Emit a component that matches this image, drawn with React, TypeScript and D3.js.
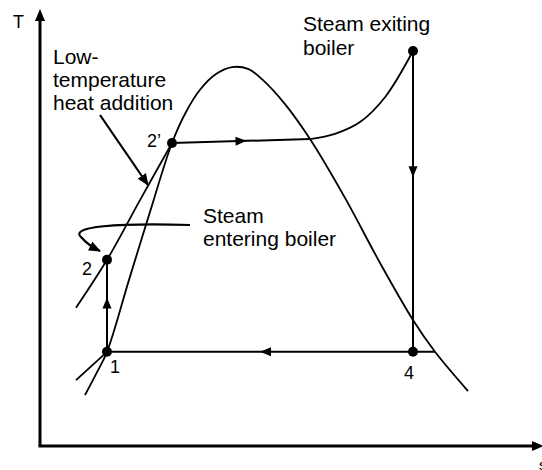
import React from "react";
import * as d3 from "d3";

// Data coordinates: entropy s (0-100), temperature T (0-100)
const domePoints: [number, number][] = [
  [9, 11.7], [11.2, 16.5], [13.4, 21.6], [17.8, 38.1], [22, 53.7], [26.4, 69.5],
  [29.2, 76.6], [32, 81.7], [35.2, 85.3], [38.4, 86.9], [41.6, 86.5], [44.6, 83.9],
  [49, 78.4], [54, 70.4], [61, 56.9], [68, 42.0], [74.6, 28.9], [79, 21.6], [85.6, 12.6],
];
const liquidLine: [number, number][] = [[7.2, 31.7], [13.4, 42.7], [20, 56.4], [26.4, 69.5]];
const stubLine: [number, number][] = [[7.2, 15.1], [13.4, 21.6]];
const heatAddition: [number, number][] = [[26.4, 69.5], [54, 70.4]];
const superheat: [number, number][] = [
  [54, 70.4], [59, 71.6], [64, 74.3], [69, 80.0], [74.6, 90.6],
];
const pumpLine: [number, number][] = [[13.4, 21.6], [13.4, 42.7]];
const turbineLine: [number, number][] = [[74.6, 90.6], [74.6, 21.6]];
const condenserLine: [number, number][] = [[79, 21.6], [13.4, 21.6]];

const statePoints: [number, number][] = [[13.4, 21.6], [13.4, 42.7], [26.4, 69.5], [74.6, 90.6], [74.6, 21.6]];
const stateLabels = ["1", "2", "2’", "", "4"];

// flow arrows: segment and fraction along it
const flowArrows: { seg: [number, number][]; t: number }[] = [
  { seg: pumpLine, t: 0.59 },
  { seg: heatAddition, t: 0.54 },
  { seg: turbineLine, t: 0.42 },
  { seg: [[74.6, 21.6], [13.4, 21.6]], t: 0.5 },
];

const annLowTemp = ["Low-", "temperature", "heat addition"];
const annEntering = ["Steam", "entering boiler"];
const annExiting = ["Steam exiting", "boiler"];

const W = 542, H = 470;
const x = d3.scaleLinear().domain([0, 100]).range([40, 540]);
const y = d3.scaleLinear().domain([0, 100]).range([446, 10]);

const smooth = d3.line<[number, number]>().x(d => x(d[0])).y(d => y(d[1])).curve(d3.curveCatmullRom.alpha(0.5));
const straight = d3.line<[number, number]>().x(d => x(d[0])).y(d => y(d[1]));

function arrowHead(px: number, py: number, dx: number, dy: number, len = 11, half = 4.5) {
  const L = Math.hypot(dx, dy);
  const ux = dx / L, uy = dy / L;
  const bx = px - ux * len, by = py - uy * len;
  const nx = -uy, ny = ux;
  return `M${px},${py}L${bx + nx * half},${by + ny * half}L${bx - nx * half},${by - ny * half}Z`;
}

export default function App() {
  const font = "'Liberation Sans', Arial, Helvetica, sans-serif";
  const labelOffsets: [number, number][] = [[3, 21], [-25, 15], [-25, 4], [0, 0], [-9, 27]];
  return (
    <svg width={W} height={H} style={{ position: "absolute", left: 0, top: 0, background: "#fff" }} fontFamily={font}>
      <defs>
        <marker id="ah" viewBox="0 0 12 10" refX="11" refY="5" markerWidth="12" markerHeight="10" markerUnits="userSpaceOnUse" orient="auto">
          <path d="M0,0 L12,5 L0,10 Z" fill="#000" />
        </marker>
      </defs>
      {/* axes */}
      <line x1={x(0)} y1={y(0)} x2={x(0)} y2={y(100) + 8} stroke="#000" strokeWidth={3} />
      <path d={arrowHead(x(0), y(100) - 1, 0, -1, 12, 5)} fill="#000" />
      <line x1={x(0) - 1.5} y1={y(0)} x2={x(100) - 6} y2={y(0)} stroke="#000" strokeWidth={3} />
      <path d={arrowHead(x(100) + 4, y(0), 1, 0, 12, 5)} fill="#000" />
      <text x={13} y={28} fontSize={18}>T</text>
      <text x={539} y={470} fontSize={15}>s</text>

      {/* dome and lines */}
      <path d={smooth(domePoints)!} fill="none" stroke="#000" strokeWidth={1.8} />
      <path d={smooth(liquidLine)!} fill="none" stroke="#000" strokeWidth={1.8} />
      <path d={smooth(stubLine)!} fill="none" stroke="#000" strokeWidth={1.8} />
      <path d={straight(heatAddition)!} fill="none" stroke="#000" strokeWidth={2} />
      <path d={smooth(superheat)!} fill="none" stroke="#000" strokeWidth={1.8} />
      <path d={straight(pumpLine)!} fill="none" stroke="#000" strokeWidth={2} />
      <path d={straight(turbineLine)!} fill="none" stroke="#000" strokeWidth={2} />
      <path d={straight(condenserLine)!} fill="none" stroke="#000" strokeWidth={2} />

      {flowArrows.map((a, i) => {
        const [p0, p1] = a.seg;
        const sx = x(p0[0]) + (x(p1[0]) - x(p0[0])) * a.t;
        const sy = y(p0[1]) + (y(p1[1]) - y(p0[1])) * a.t;
        return <path key={i} d={arrowHead(sx, sy, x(p1[0]) - x(p0[0]), y(p1[1]) - y(p0[1]), 11, 4.5)} fill="#000" />;
      })}

      {statePoints.map((p, i) => (
        <circle key={i} cx={x(p[0])} cy={y(p[1])} r={5} fill="#000" />
      ))}
      {statePoints.map((p, i) =>
        stateLabels[i] ? (
          <text key={"l" + i} x={x(p[0]) + labelOffsets[i][0]} y={y(p[1]) + labelOffsets[i][1]} fontSize={18}>
            {stateLabels[i]}
          </text>
        ) : null
      )}

      {/* annotations */}
      {annLowTemp.map((t, i) => (
        <text key={"a" + i} x={53} y={64 + i * 23} fontSize={21}>{t}</text>
      ))}
      {annExiting.map((t, i) => (
        <text key={"b" + i} x={303} y={31 + i * 24} fontSize={21}>{t}</text>
      ))}
      {annEntering.map((t, i) => (
        <text key={"c" + i} x={203} y={223 + i * 23} fontSize={21}>{t}</text>
      ))}
      <line x1={100} y1={115} x2={148} y2={185} stroke="#000" strokeWidth={2.2} markerEnd="url(#ah)" />
      <path d="M190,225 C120,223 66,226 82,238 C86,243 92,247 100,251" fill="none" stroke="#000" strokeWidth={2.2} markerEnd="url(#ah)" />
    </svg>
  );
}
